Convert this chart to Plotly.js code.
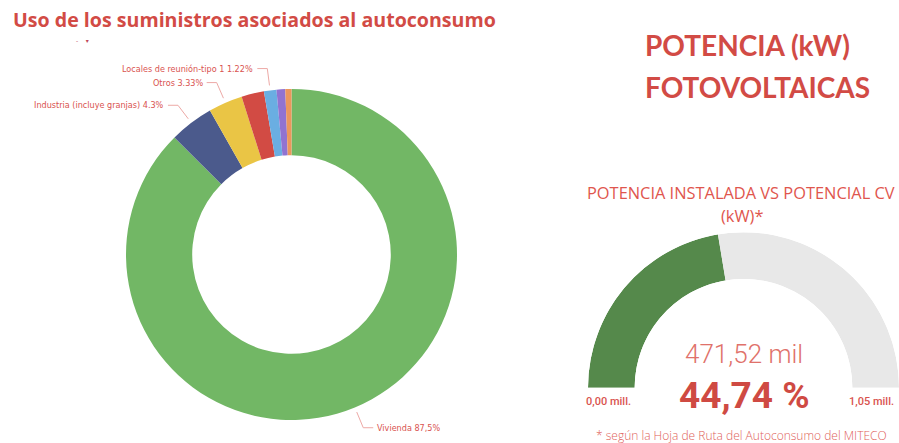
<!DOCTYPE html>
<html>
<head>
<meta charset="utf-8">
<script src="https://cdn.plot.ly/plotly-3.0.1.min.js"></script>
<style>
  html, body { margin: 0; padding: 0; background: #fff; }
  #chart { width: 899px; height: 443px; }
</style>
</head>
<body>
<div id="chart"></div>
<script>
// Donut: use of the supply points with self-consumption (%)
const usoLabels = ['Vivienda', 'Industria (incluye granjas)', 'Otros', 'Comercio', 'Locales de reunión-tipo 1', 'Oficinas', 'Educación'];
const usoValues = [87.5, 4.3, 3.33, 2.2, 1.22, 0.85, 0.6];
const usoText = ['Vivienda 87,5%', 'Industria (incluye granjas) 4.3%', 'Otros 3.33%', '', 'Locales de reunión-tipo 1 1.22%', '', ''];
const usoColors = ['#72b765', '#4b5a8c', '#eac545', '#d24b44', '#6aaee2', '#9173d1', '#ec965c'];

// Gauge: installed PV power vs potential (kW)
const gaugeMin = 0;
const potenciaInstalada = 471520;
const potencialCV = 1053912;

const W = 899, H = 443;
const red = '#d24b45';

// donut geometry in pixels (used for the domain and the label leaders)
const donutCx = 291.5, donutCy = 254.5, donutR = 165.5;

function px(x) { return x / W; }
function py(y) { return 1 - y / H; }
function esNum(v, d) { return v.toFixed(d).replace('.', ','); }

const annotations = [];
const shapes = [];

// leader lines + labels for the labelled slices
const total = usoValues.reduce((a, b) => a + b, 0);
let cum = 0;
usoValues.forEach((v, i) => {
  const mid = (cum + v / 2) / total * 2 * Math.PI;
  cum += v;
  if (!usoText[i]) return;
  const s = Math.sin(mid), c = Math.cos(mid);
  const x1 = donutCx + (donutR + 5) * s, y1 = donutCy - (donutR + 5) * c;
  const x2 = donutCx + (donutR + 22) * s, y2 = donutCy - (donutR + 22) * c;
  const dir = s >= 0 ? 1 : -1;
  const x3 = x2 + dir * 10;
  shapes.push({
    type: 'path', xref: 'paper', yref: 'paper',
    path: `M ${px(x1)} ${py(y1)} L ${px(x2)} ${py(y2)} L ${px(x3)} ${py(y2)}`,
    line: { color: '#eda9a6', width: 1 }
  });
  annotations.push({
    xref: 'paper', yref: 'paper', x: px(x3 + dir * 2), y: py(y2),
    xanchor: dir > 0 ? 'left' : 'right', yanchor: 'middle',
    text: usoText[i], showarrow: false,
    font: { family: 'Liberation Sans Narrow, DejaVu Sans Condensed, sans-serif', size: 9, color: '#d9534f' }
  });
});

// titles and gauge texts
annotations.push(
  { x: px(11), y: py(19), xanchor: 'left', yanchor: 'middle', text: 'Uso de los suministros asociados al autoconsumo',
    font: { family: 'Open Sans, sans-serif', size: 19.6, weight: 700, color: red } },
  { x: px(74), y: py(41), xanchor: 'left', yanchor: 'middle', text: '-&nbsp;&nbsp;&nbsp;&nbsp;▾',
    font: { family: 'DejaVu Sans, sans-serif', size: 6, color: '#c0485a' } },
  { x: px(643), y: py(45), xanchor: 'left', yanchor: 'middle', text: 'POTENCIA (kW)',
    font: { family: 'Lato, sans-serif', size: 28, weight: 700, color: red } },
  { x: px(643), y: py(87), xanchor: 'left', yanchor: 'middle', text: 'FOTOVOLTAICAS',
    font: { family: 'Lato, sans-serif', size: 28, weight: 700, color: red } },
  { x: px(897), y: py(193), xanchor: 'right', yanchor: 'middle', text: 'POTENCIA INSTALADA VS POTENCIAL CV',
    font: { family: 'Open Sans, sans-serif', size: 16.4, color: '#df564e' } },
  { x: px(742), y: py(215), xanchor: 'center', yanchor: 'middle', text: '(kW)*',
    font: { family: 'Open Sans, sans-serif', size: 16.4, color: '#df564e' } },
  { x: px(744), y: py(354), xanchor: 'center', yanchor: 'middle', text: esNum(potenciaInstalada / 1000, 2) + ' mil',
    font: { family: 'Roboto, sans-serif', size: 26, weight: 300, color: '#e0716a' } },
  { x: px(744), y: py(395), xanchor: 'center', yanchor: 'middle', text: esNum(potenciaInstalada / potencialCV * 100, 2) + ' %',
    font: { family: 'Roboto, sans-serif', size: 37, weight: 700, color: '#cf4a43' } },
  { x: px(608), y: py(401), xanchor: 'center', yanchor: 'middle', text: esNum(gaugeMin / 1e6, 2) + ' mill.',
    font: { family: 'Roboto, sans-serif', size: 11, weight: 500, color: '#d9534f' } },
  { x: px(847), y: py(401), xanchor: 'left', yanchor: 'middle', text: esNum(potencialCV / 1e6, 2) + ' mill.',
    font: { family: 'Roboto, sans-serif', size: 11, weight: 500, color: '#d9534f' } },
  { x: px(741), y: py(435), xanchor: 'center', yanchor: 'middle', text: '* según la Hoja de Ruta del Autoconsumo del MITECO',
    font: { family: 'Open Sans, sans-serif', size: 12, weight: 300, color: '#e0625a' } }
);
annotations.forEach(a => {
  a.xref = 'paper'; a.yref = 'paper'; a.showarrow = false;
});

// gauge angles (degrees, starting at the left end)
const degPerKw = 180 / (potencialCV - gaugeMin);
const greenSpan = (potenciaInstalada - gaugeMin) * degPerKw;

const donut = {
  type: 'pie',
  labels: usoLabels,
  values: usoValues,
  marker: { colors: usoColors, line: { width: 0 } },
  hole: 0.6,
  sort: false,
  direction: 'clockwise',
  rotation: 0,
  textinfo: 'none',
  hoverinfo: 'label+percent',
  domain: { x: [px(donutCx - donutR), px(donutCx + donutR)], y: [py(donutCy + donutR), py(donutCy - donutR)] },
  showlegend: false
};

const gauge = {
  type: 'barpolar',
  r: [1, 1],
  theta: [greenSpan / 2, greenSpan + (180 - greenSpan) / 2],
  width: [greenSpan, 180 - greenSpan],
  marker: { color: ['#55894b', '#e8e8e8'], line: { width: 0 } },
  subplot: 'polar',
  hoverinfo: 'skip',
  showlegend: false
};

const layout = {
  width: W, height: H,
  margin: { l: 0, r: 0, t: 0, b: 0 },
  paper_bgcolor: '#fff',
  showlegend: false,
  polar: {
    domain: { x: [px(588), 1], y: [py(388), py(232)] },
    sector: [0, 180],
    hole: 0.7,
    bgcolor: 'rgba(0,0,0,0)',
    radialaxis: { visible: false, range: [0, 1], showgrid: false },
    angularaxis: { visible: false, rotation: 180, direction: 'clockwise', showgrid: false, showline: false }
  },
  shapes: shapes,
  annotations: annotations
};

Plotly.newPlot('chart', [donut, gauge], layout, { displayModeBar: false, staticPlot: true });
</script>
</body>
</html>
